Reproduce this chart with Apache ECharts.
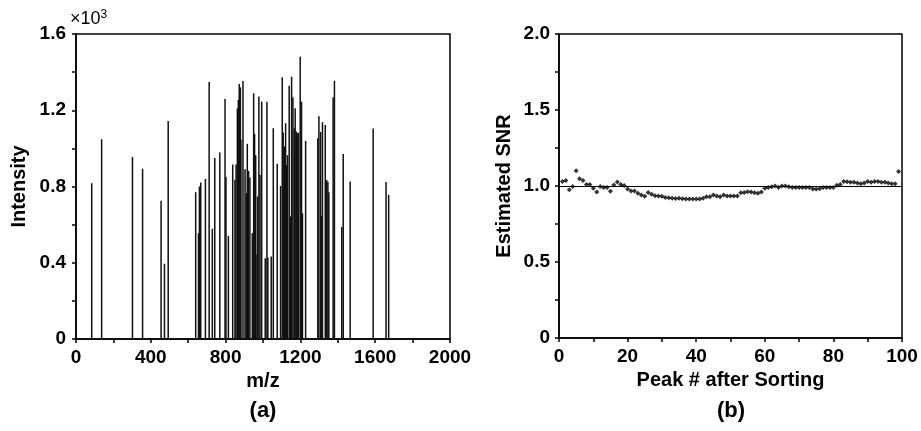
<!DOCTYPE html>
<html>
<head>
<meta charset="utf-8">
<script src="https://cdn.jsdelivr.net/npm/echarts@6/dist/echarts.min.js"></script>
<style>html,body{margin:0;padding:0;background:#fff}#c{width:921px;height:431px}</style>
</head>
<body>
<div id="c"></div>
<script>
// Panel (a): peak m/z positions and intensities
const mzValues = [84,137,302,356,455,473,493,640,655,660,667,692,712,729,742,769,797,802,815,838,850,856,863,868,873,879,882,893,904,911,916,923,930,943,950,955,961,968,971,978,984,993,1012,1021,1026,1044,1055,1076,1094,1103,1108,1114,1121,1126,1131,1140,1147,1153,1160,1167,1172,1178,1183,1190,1199,1206,1211,1228,1293,1299,1308,1313,1318,1333,1340,1347,1352,1375,1382,1421,1429,1466,1589,1658,1672];
const intensities = [817,1048,955,893,725,395,1144,770,555,800,821,840,1348,578,950,978,1259,850,541,915,835,915,1210,1254,1338,1320,1045,1354,891,765,1024,882,847,555,1289,1076,964,444,748,1272,861,1245,424,1245,428,433,1106,919,803,1373,1083,1010,1132,912,964,1328,643,1376,1268,1106,1210,1088,1079,1083,1481,1245,660,1039,1053,1168,1086,646,1137,1123,835,826,770,1268,1355,588,971,826,1104,823,756];
// Panel (b): estimated SNR per peak index
const peakIndex = [];
for (let i = 1; i <= 99; i++) peakIndex.push(i);
const snrValues = [1.03,1.037,0.976,0.996,1.10,1.048,1.037,1.01,1.01,0.985,0.96,0.996,0.99,0.99,0.965,1.007,1.026,1.01,1.004,0.98,0.967,0.967,0.952,0.94,0.932,0.958,0.945,0.936,0.934,0.932,0.925,0.923,0.92,0.918,0.92,0.916,0.915,0.915,0.915,0.915,0.915,0.92,0.93,0.93,0.94,0.935,0.93,0.94,0.935,0.935,0.935,0.935,0.955,0.958,0.962,0.96,0.955,0.953,0.96,0.985,0.99,0.995,1.0,0.99,1.0,1.0,0.995,0.99,0.99,0.99,0.99,0.99,0.99,0.98,0.98,0.982,0.99,0.99,0.99,0.99,1.005,1.01,1.03,1.028,1.025,1.025,1.02,1.015,1.02,1.03,1.025,1.03,1.03,1.025,1.025,1.02,1.015,1.015,1.095];
// Tick labels
const yTicksA = {0:'0',400:'0.4',800:'0.8',1200:'1.2',1600:'1.6'};
const xTicksA = {0:'0',400:'400',800:'800',1200:'1200',1600:'1600',2000:'2000'};
const yTicksB = {0:'0',0.5:'0.5',1:'1.0',1.5:'1.5',2:'2.0'};
const xTicksB = {0:'0',20:'20',40:'40',60:'60',80:'80',100:'100'};

const FONT = '"Liberation Sans", Arial, sans-serif';
const chart = echarts.init(document.getElementById('c'));
const lbl = (map) => ({
  fontFamily: FONT, fontWeight: 'bold', fontSize: 19, color: '#000',
  formatter: (v) => { const k = Math.round(v * 1000) / 1000; return map[k] !== undefined ? map[k] : ''; }
});
const axisCommon = {
  axisLine: { show: true, lineStyle: { color: '#000', width: 1.5 } },
  axisTick: { show: true, inside: false, length: 4, lineStyle: { color: '#000', width: 1.5 } },
  splitLine: { show: false },
  nameTextStyle: { fontFamily: FONT, fontWeight: 'bold', fontSize: 20, color: '#000' }
};
const barData = mzValues.map((m, i) => [m, intensities[i]]);
const snrData = peakIndex.map((p, i) => [p, snrValues[i]]);

chart.setOption({
  animation: false,
  backgroundColor: '#fff',
  grid: [
    { left: 76, right: 471, top: 34, bottom: 92, show: true, borderColor: '#000', borderWidth: 1.5, backgroundColor: 'transparent' },
    { left: 559, right: 19, top: 34, bottom: 93, show: true, borderColor: '#000', borderWidth: 1.5, backgroundColor: 'transparent' }
  ],
  xAxis: [
    Object.assign({}, axisCommon, { type: 'value', gridIndex: 0, min: 0, max: 2000, interval: 200,
      name: 'm/z', nameLocation: 'middle', nameGap: 30,
      axisLabel: Object.assign(lbl(xTicksA), { margin: 9, showMaxLabel: true }) }),
    Object.assign({}, axisCommon, { type: 'value', gridIndex: 1, min: 0, max: 100, interval: 10,
      name: 'Peak # after Sorting', nameLocation: 'middle', nameGap: 30,
      axisLabel: Object.assign(lbl(xTicksB), { margin: 9, showMaxLabel: true }) })
  ],
  yAxis: [
    Object.assign({}, axisCommon, { type: 'value', gridIndex: 0, min: 0, max: 1600, interval: 200,
      name: 'Intensity', nameLocation: 'middle', nameGap: 47,
      axisLabel: Object.assign(lbl(yTicksA), { margin: 10 }) }),
    Object.assign({}, axisCommon, { type: 'value', gridIndex: 1, min: 0, max: 2, interval: 0.25,
      name: 'Estimated SNR', nameLocation: 'middle', nameGap: 45,
      axisLabel: Object.assign(lbl(yTicksB), { margin: 9 }) })
  ],
  series: [
    { type: 'bar', xAxisIndex: 0, yAxisIndex: 0, data: barData, barWidth: 1.5,
      itemStyle: { color: '#111' }, silent: true },
    { type: 'scatter', xAxisIndex: 1, yAxisIndex: 1, data: snrData, symbol: 'diamond', symbolSize: 5,
      itemStyle: { color: '#000' }, silent: true,
      markLine: { silent: true, symbol: 'none', label: { show: false },
        lineStyle: { color: '#000', width: 1.2, type: 'solid' }, data: [{ yAxis: 1 }] } }
  ],
  graphic: [
    { type: 'text', left: 70, top: 9, style: { text: '{a|×10}{b|3}', rich: {
        a: { fontFamily: FONT, fontSize: 18, fill: '#000', verticalAlign: 'bottom' },
        b: { fontFamily: FONT, fontSize: 12, fill: '#000', verticalAlign: 'top', padding: [0,0,7,0] } } } },
    { type: 'text', x: 263, y: 411, style: { text: '(a)', fontFamily: FONT, fontWeight: 'bold', fontSize: 22, fill: '#000', align: 'center', verticalAlign: 'middle' } },
    { type: 'text', x: 731, y: 411, style: { text: '(b)', fontFamily: FONT, fontWeight: 'bold', fontSize: 22, fill: '#000', align: 'center', verticalAlign: 'middle' } }
  ]
});
</script>
</body>
</html>
